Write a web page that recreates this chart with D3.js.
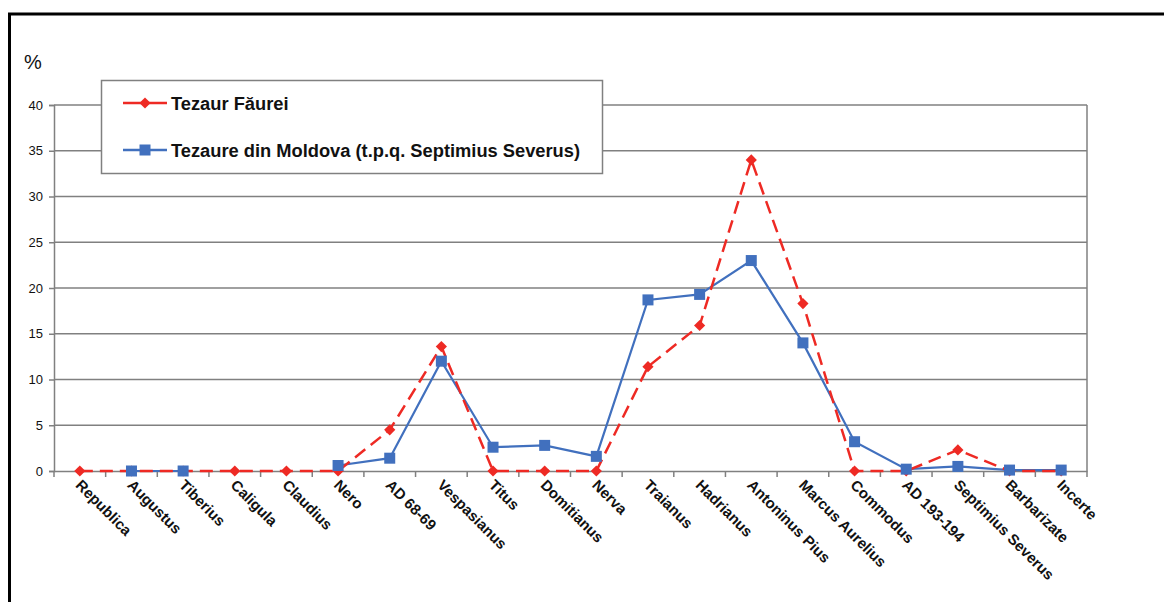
<!DOCTYPE html>
<html><head><meta charset="utf-8">
<script src="https://cdn.jsdelivr.net/npm/d3@7"></script>
<style>body{margin:0;background:#fff}svg{display:block}text{font-family:"Liberation Sans",Arial,sans-serif}</style>
</head><body>
<svg id="c" width="1164" height="602"></svg>
<script>
const categories = ["Republica","Augustus","Tiberius","Caligula","Claudius","Nero","AD 68-69","Vespasianus","Titus","Domitianus","Nerva","Traianus","Hadrianus","Antoninus Pius","Marcus Aurelius","Commodus","AD 193-194","Septimius Severus","Barbarizate","Incerte"];
const faurei = [0,0,0,0,0,0,4.5,13.6,0,0,0,11.4,15.9,34.0,18.3,0,0,2.3,0,0];
const moldova = [null,0,0,null,null,0.6,1.4,12.0,2.6,2.8,1.6,18.7,19.3,23.0,14.0,3.2,0.2,0.5,0.1,0.1];
const yTicks = [0,5,10,15,20,25,30,35,40];
const seriesNames = ["Tezaur Făurei","Tezaure din Moldova (t.p.q. Septimius Severus)"];

const svg = d3.select("#c");
const red = "#ee2a24", blue = "#4170be", grid = "#808080";
const L = 54, R = 1087, T = 105, B = 471;

// frame
svg.append("line").attr("x1",8).attr("x2",1164).attr("y1",14).attr("y2",14).attr("stroke","#000").attr("stroke-width",3);
svg.append("line").attr("x1",9.5).attr("x2",9.5).attr("y1",13).attr("y2",602).attr("stroke","#000").attr("stroke-width",3);

const x = d3.scaleBand().domain(categories).range([L,R]);
const y = d3.scaleLinear().domain([0,40]).range([B,T]);

// gridlines
svg.append("g").selectAll("line").data(yTicks.filter(d=>d>0)).join("line")
  .attr("x1",L).attr("x2",R).attr("y1",d=>y(d)).attr("y2",d=>y(d))
  .attr("stroke",grid).attr("stroke-width",1.5);
svg.append("line").attr("x1",R).attr("x2",R).attr("y1",T).attr("y2",B).attr("stroke",grid).attr("stroke-width",1.5);

// y axis
const ya = svg.append("g").attr("transform",`translate(${L},0)`)
  .call(d3.axisLeft(y).tickValues(yTicks).tickSize(5).tickPadding(6));
ya.select(".domain").attr("stroke",grid).attr("stroke-width",1.5);
ya.selectAll(".tick line").attr("stroke",grid).attr("stroke-width",1.5);
ya.selectAll("text").attr("font-size",13).attr("fill","#111");

// x axis
const xa = svg.append("g").attr("transform",`translate(0,${B})`)
  .call(d3.axisBottom(x).tickSize(0).tickFormat(""));
xa.select(".domain").attr("stroke",grid).attr("stroke-width",1.5);
const bounds = categories.map((c,i)=>x(c)).concat([R]);
xa.append("g").selectAll("line").data(bounds).join("line")
  .attr("x1",d=>d).attr("x2",d=>d).attr("y1",0).attr("y2",6).attr("stroke",grid).attr("stroke-width",1.5);
svg.append("g").selectAll("text").data(categories).join("text")
  .attr("transform",d=>`translate(${x(d)+x.bandwidth()/2-5},${B+15}) rotate(45)`)
  .attr("font-size",15).attr("font-weight","bold").attr("fill","#111").text(d=>d);

// % label
svg.append("text").attr("x",24).attr("y",69).attr("font-size",20).attr("fill","#111").text("%");

const cx = i => x(categories[i]) + x.bandwidth()/2;
const line = d3.line().defined(d=>d!=null).x((d,i)=>cx(i)).y(d=>y(d));

// blue series
svg.append("path").attr("d",line(moldova)).attr("fill","none").attr("stroke",blue).attr("stroke-width",2.2);
// red series
svg.append("path").attr("d",line(faurei)).attr("fill","none").attr("stroke",red).attr("stroke-width",2.5).attr("stroke-dasharray","13,7");

svg.append("g").selectAll("path").data(faurei.map((v,i)=>({v,i})).filter(d=>d.v!=null)).join("path")
  .attr("d",d3.symbol(d3.symbolDiamond2,80)()).attr("fill",red)
  .attr("transform",d=>`translate(${cx(d.i)},${y(d.v)})`);
svg.append("g").selectAll("rect").data(moldova.map((v,i)=>({v,i})).filter(d=>d.v!=null)).join("rect")
  .attr("x",d=>cx(d.i)-5.5).attr("y",d=>y(d.v)-5.5).attr("width",11).attr("height",11).attr("fill",blue);

// legend
const lg = svg.append("g");
lg.append("rect").attr("x",101.5).attr("y",80.5).attr("width",501).attr("height",93).attr("fill","#fff").attr("stroke",grid).attr("stroke-width",1.5);
const items = [{name:seriesNames[0],c:red,y:103,sym:"d"},{name:seriesNames[1],c:blue,y:150,sym:"s"}];
items.forEach(it=>{
  lg.append("line").attr("x1",123).attr("x2",167).attr("y1",it.y).attr("y2",it.y).attr("stroke",it.c).attr("stroke-width",2.5);
  if(it.sym==="d") lg.append("path").attr("d",d3.symbol(d3.symbolDiamond2,80)()).attr("fill",it.c).attr("transform",`translate(145,${it.y})`);
  else lg.append("rect").attr("x",139.5).attr("y",it.y-5.5).attr("width",11).attr("height",11).attr("fill",it.c);
  lg.append("text").attr("x",171).attr("y",it.y+6.5).attr("font-size",18.3).attr("font-weight","bold").attr("fill","#111").text(it.name);
});
</script>
</body></html>
